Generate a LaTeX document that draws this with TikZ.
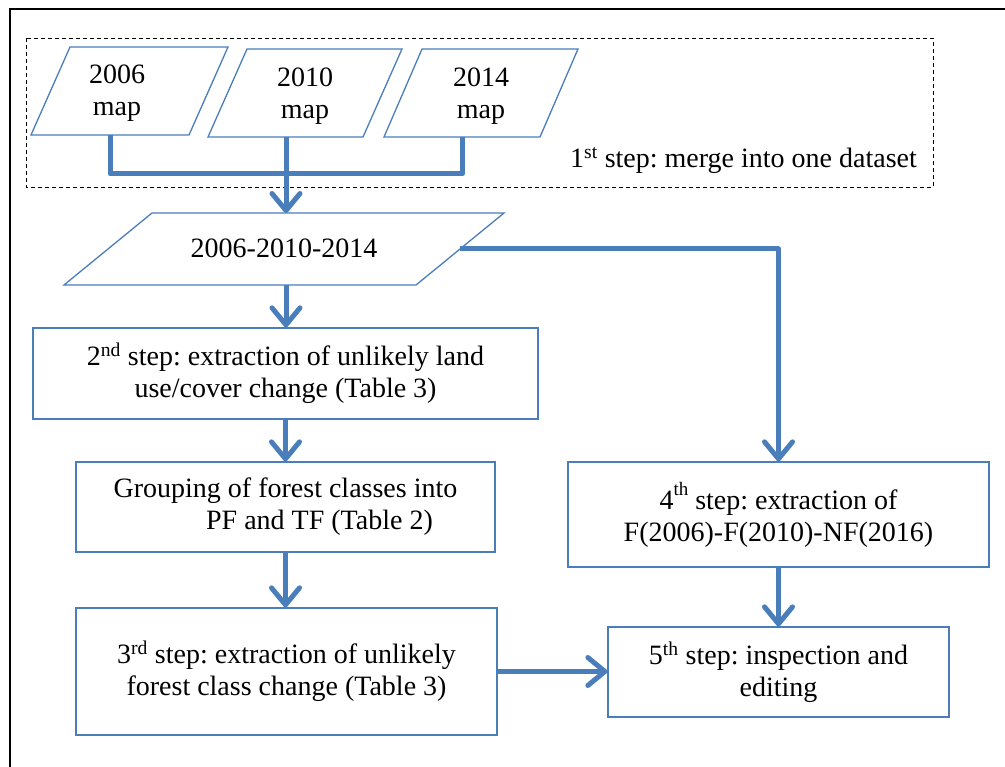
\documentclass[tikz,border=0pt]{standalone}
\usepackage{fontspec}
\setmainfont{Liberation Serif}
\usetikzlibrary{arrows.meta}
\definecolor{myblue}{RGB}{74,126,187}
\frenchspacing
\begin{document}
\begin{tikzpicture}[x=1pt,y=-1pt,
  outline/.style={draw=myblue, line width=1.3pt},
  box/.style={outline, rectangle, align=center, inner sep=0pt, font=\frenchspacing\fontsize{28}{32}\selectfont},
  txt/.style={align=center, inner sep=0pt, font=\frenchspacing\fontsize{28}{32}\selectfont},
  conn/.style={draw=myblue, line width=5pt, line join=round},
  arr/.style={conn, -{Straight Barb[length=17pt,width=28pt,round]}},
  frame/.style={draw=black, line width=1.8pt},
  dashbox/.style={draw=black, line width=0.9pt, dash pattern=on 4pt off 3pt}]
\useasboundingbox (0,0) rectangle (1005,767);
\draw[frame] (10,800) -- (10,9) -- (1040,9);
\draw[dashbox] (26,38) rectangle (933,187);
% input maps
\draw[outline] (31,135) -- (70,47) -- (228,47) -- (189,135) -- cycle;
\draw[outline] (208,137) -- (247,49) -- (402,49) -- (363,137) -- cycle;
\draw[outline] (384,137) -- (422,49) -- (578,49) -- (540,137) -- cycle;
\node[txt] (m06) at (117,93.5) {2006\\map};
\node[txt] (m10) at (305,96.5) {2010\\map};
\node[txt] (m14) at (481,96.5) {2014\\map};
\node[txt, anchor=base west] (lab1) at (570,168) {1\textsuperscript{st} step: merge into one dataset};
% merged dataset
\draw[outline] (64,285) -- (152,213) -- (504,213) -- (416,285) -- cycle;
\node[txt, anchor=base] (all) at (284,258) {2006-2010-2014};
% boxes
\node[box, minimum width=505pt, minimum height=91pt] (s2) at (285.5,373.5)
  {2\textsuperscript{nd} step: extraction of unlikely land\\use/cover change (Table 3)};
\node[box, minimum width=419pt, minimum height=90pt] (sg) at (285.5,507)
  {Grouping of forest classes into\\\hspace*{68pt}PF and TF (Table 2)};
\node[box, minimum width=421pt, minimum height=127pt] (s3) at (286.5,671.5)
  {3\textsuperscript{rd} step: extraction of unlikely\\forest class change (Table 3)};
\node[box, minimum width=421pt, minimum height=105pt] (s4) at (778.5,514.5)
  {4\raisebox{0.5em}{\fontsize{19}{19}\selectfont th} step: extraction of\\F(2006)-F(2010)-NF(2016)};
\node[box, minimum width=341pt, minimum height=90pt] (s5) at (778.5,672)
  {5\textsuperscript{th} step: inspection and\\editing};
% connection points
\coordinate (p06b) at (110,135);
\coordinate (p10b) at (286,137);
\coordinate (p14b) at (462,137);
\coordinate (j) at (286,174);
\coordinate (allt) at (286,213);
\coordinate (allb) at (286,285);
\coordinate (allr) at (460,249);
% connectors
\draw[conn] (p06b) |- (j) -| (p14b);
\draw[arr] (p10b) -- (allt);
\draw[arr] (allr) -| (s4.north);
\draw[arr] (allb) -- (allb |- s2.north);
\draw[arr] (s2.south) -- (s2.south |- sg.north);
\draw[arr] (sg.south) -- (sg.south |- s3.north);
\draw[arr] (s4.south) -- (s5.north);
\draw[arr] (s3.east) -- (s3.east -| s5.west);
\end{tikzpicture}
\end{document}
